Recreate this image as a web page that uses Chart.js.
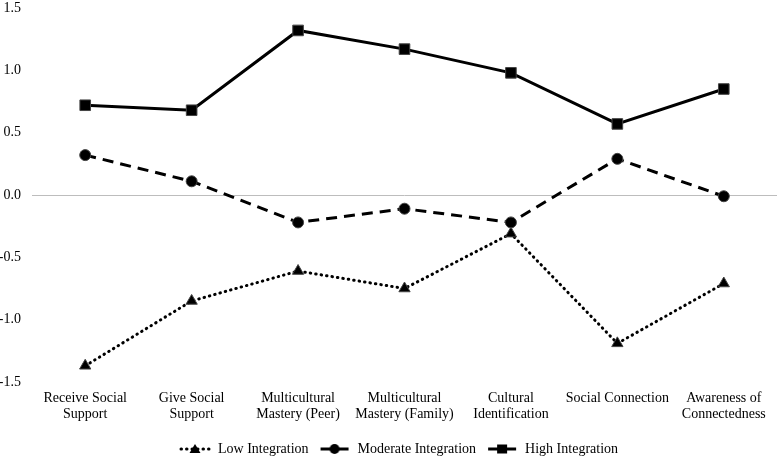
<!DOCTYPE html>
<html>
<head>
<meta charset="utf-8">
<script src="https://cdn.jsdelivr.net/npm/chart.js@4/dist/chart.umd.min.js"></script>
<style>
  html, body { margin: 0; padding: 0; background: #fff; }
  #wrap { width: 780px; height: 456px; }
</style>
</head>
<body>
<div id="wrap"><canvas id="chart"></canvas></div>
<script>
// Categories and series values
const categories = [
    ['Receive Social', 'Support'],
    ['Give Social', 'Support'],
    ['Multicultural', 'Mastery (Peer)'],
    ['Multicultural', 'Mastery (Family)'],
    ['Cultural', 'Identification'],
    ['Social Connection'],
    ['Awareness of', 'Connectedness']
];
const lowIntegration = [-1.37, -0.85, -0.61, -0.75, -0.31, -1.19, -0.71];
const moderateIntegration = [0.32, 0.11, -0.22, -0.11, -0.22, 0.29, -0.01];
const highIntegration = [0.72, 0.68, 1.32, 1.17, 0.98, 0.57, 0.85];
const yTicks = [-1.5, -1.0, -0.5, 0.0, 0.5, 1.0, 1.5];

const FONT = "'Liberation Serif', 'Times New Roman', serif";

// Legend symbol: short line with the marker in the middle
function legendIcon(dotted, style) {
    const c = document.createElement('canvas');
    const w = 32, h = 14;
    c.width = w; c.height = h;
    const g = c.getContext('2d');
    g.strokeStyle = '#000';
    g.fillStyle = '#000';
    g.lineWidth = 3;
    if (dotted) {
        g.setLineDash([0.5, 5]);
        g.lineCap = 'round';
    }
    g.beginPath();
    g.moveTo(2, h / 2);
    g.lineTo(w - 2, h / 2);
    g.stroke();
    g.setLineDash([]);
    const cx = w / 2, cy = h / 2;
    g.beginPath();
    if (style === 'triangle') {
        g.moveTo(cx, cy - 5); g.lineTo(cx + 5.5, cy + 4); g.lineTo(cx - 5.5, cy + 4);
    } else if (style === 'circle') {
        g.arc(cx, cy, 5, 0, Math.PI * 2);
    } else {
        g.rect(cx - 5, cy - 4.5, 10, 9);
    }
    g.closePath();
    g.fill();
    return c;
}

function series(label, values, dash, style, radius) {
    const dotted = dash.length > 0 && dash[0] < 3;
    return {
        label: label,
        data: values,
        borderColor: '#000',
        backgroundColor: '#000',
        borderWidth: 3,
        borderDash: dash,
        borderCapStyle: dotted ? 'round' : 'butt',
        pointStyle: style,
        pointRadius: radius,
        pointHoverRadius: radius,
        pointBorderColor: '#444',
        pointBorderWidth: 1,
        tension: 0,
        fill: false,
        legendIcon: legendIcon(dotted, style)
    };
}

// Nudge the legend a little to the right, like the original figure
const legendShift = {
    id: 'legendShift',
    afterLayout: function(chart) {
        if (chart.legend) {
            chart.legend.left += 10;
            chart.legend.right += 10;
        }
    }
};

new Chart(document.getElementById('chart'), {
    type: 'line',
    data: {
        labels: categories,
        datasets: [
            series('Low Integration', lowIntegration, [0.5, 5], 'triangle', 6.5),
            series('Moderate Integration', moderateIntegration, [11, 7], 'circle', 5.5),
            series('High Integration', highIntegration, [], 'rect', 7.5)
        ]
    },
    plugins: [legendShift],
    options: {
        responsive: true,
        maintainAspectRatio: false,
        animation: false,
        layout: {
            autoPadding: false,
            padding: { top: 8, right: 3, left: 0, bottom: -10 }
        },
        plugins: {
            tooltip: { enabled: false },
            legend: {
                position: 'bottom',
                labels: {
                    usePointStyle: true,
                    pointStyleWidth: 32,
                    color: '#000',
                    font: { family: FONT, size: 14 },
                    padding: 10,
                    boxHeight: 14,
                    generateLabels: function(chart) {
                        return chart.data.datasets.map(function(ds, i) {
                            return {
                                text: ds.label,
                                pointStyle: ds.legendIcon,
                                fillStyle: '#000',
                                strokeStyle: '#000',
                                lineWidth: 0,
                                hidden: false,
                                datasetIndex: i
                            };
                        });
                    }
                }
            }
        },
        scales: {
            x: {
                offset: true,
                grid: { display: false, drawTicks: false },
                border: { display: false },
                afterFit: function(axis) {
                    axis.height = 50;
                },
                ticks: {
                    color: '#000',
                    font: { family: FONT, size: 14, lineHeight: 1.1 },
                    maxRotation: 0,
                    autoSkip: false,
                    padding: 9
                }
            },
            y: {
                min: -1.5,
                max: 1.5,
                afterBuildTicks: function(axis) {
                    axis.ticks = yTicks.map(function(v) { return { value: v }; });
                },
                afterFit: function(axis) {
                    axis.width = 32;
                    axis.paddingTop = 0;
                    axis.paddingBottom = 0;
                },
                grid: {
                    color: function(ctx) {
                        return ctx.tick && ctx.tick.value === 0 ? '#bdbdbd' : 'rgba(0,0,0,0)';
                    },
                    lineWidth: 1,
                    drawTicks: false
                },
                border: { display: false },
                ticks: {
                    color: '#000',
                    font: { family: FONT, size: 14 },
                    padding: 11,
                    callback: function(v) { return Number(v).toFixed(1); }
                }
            }
        }
    }
});
</script>
</body>
</html>
